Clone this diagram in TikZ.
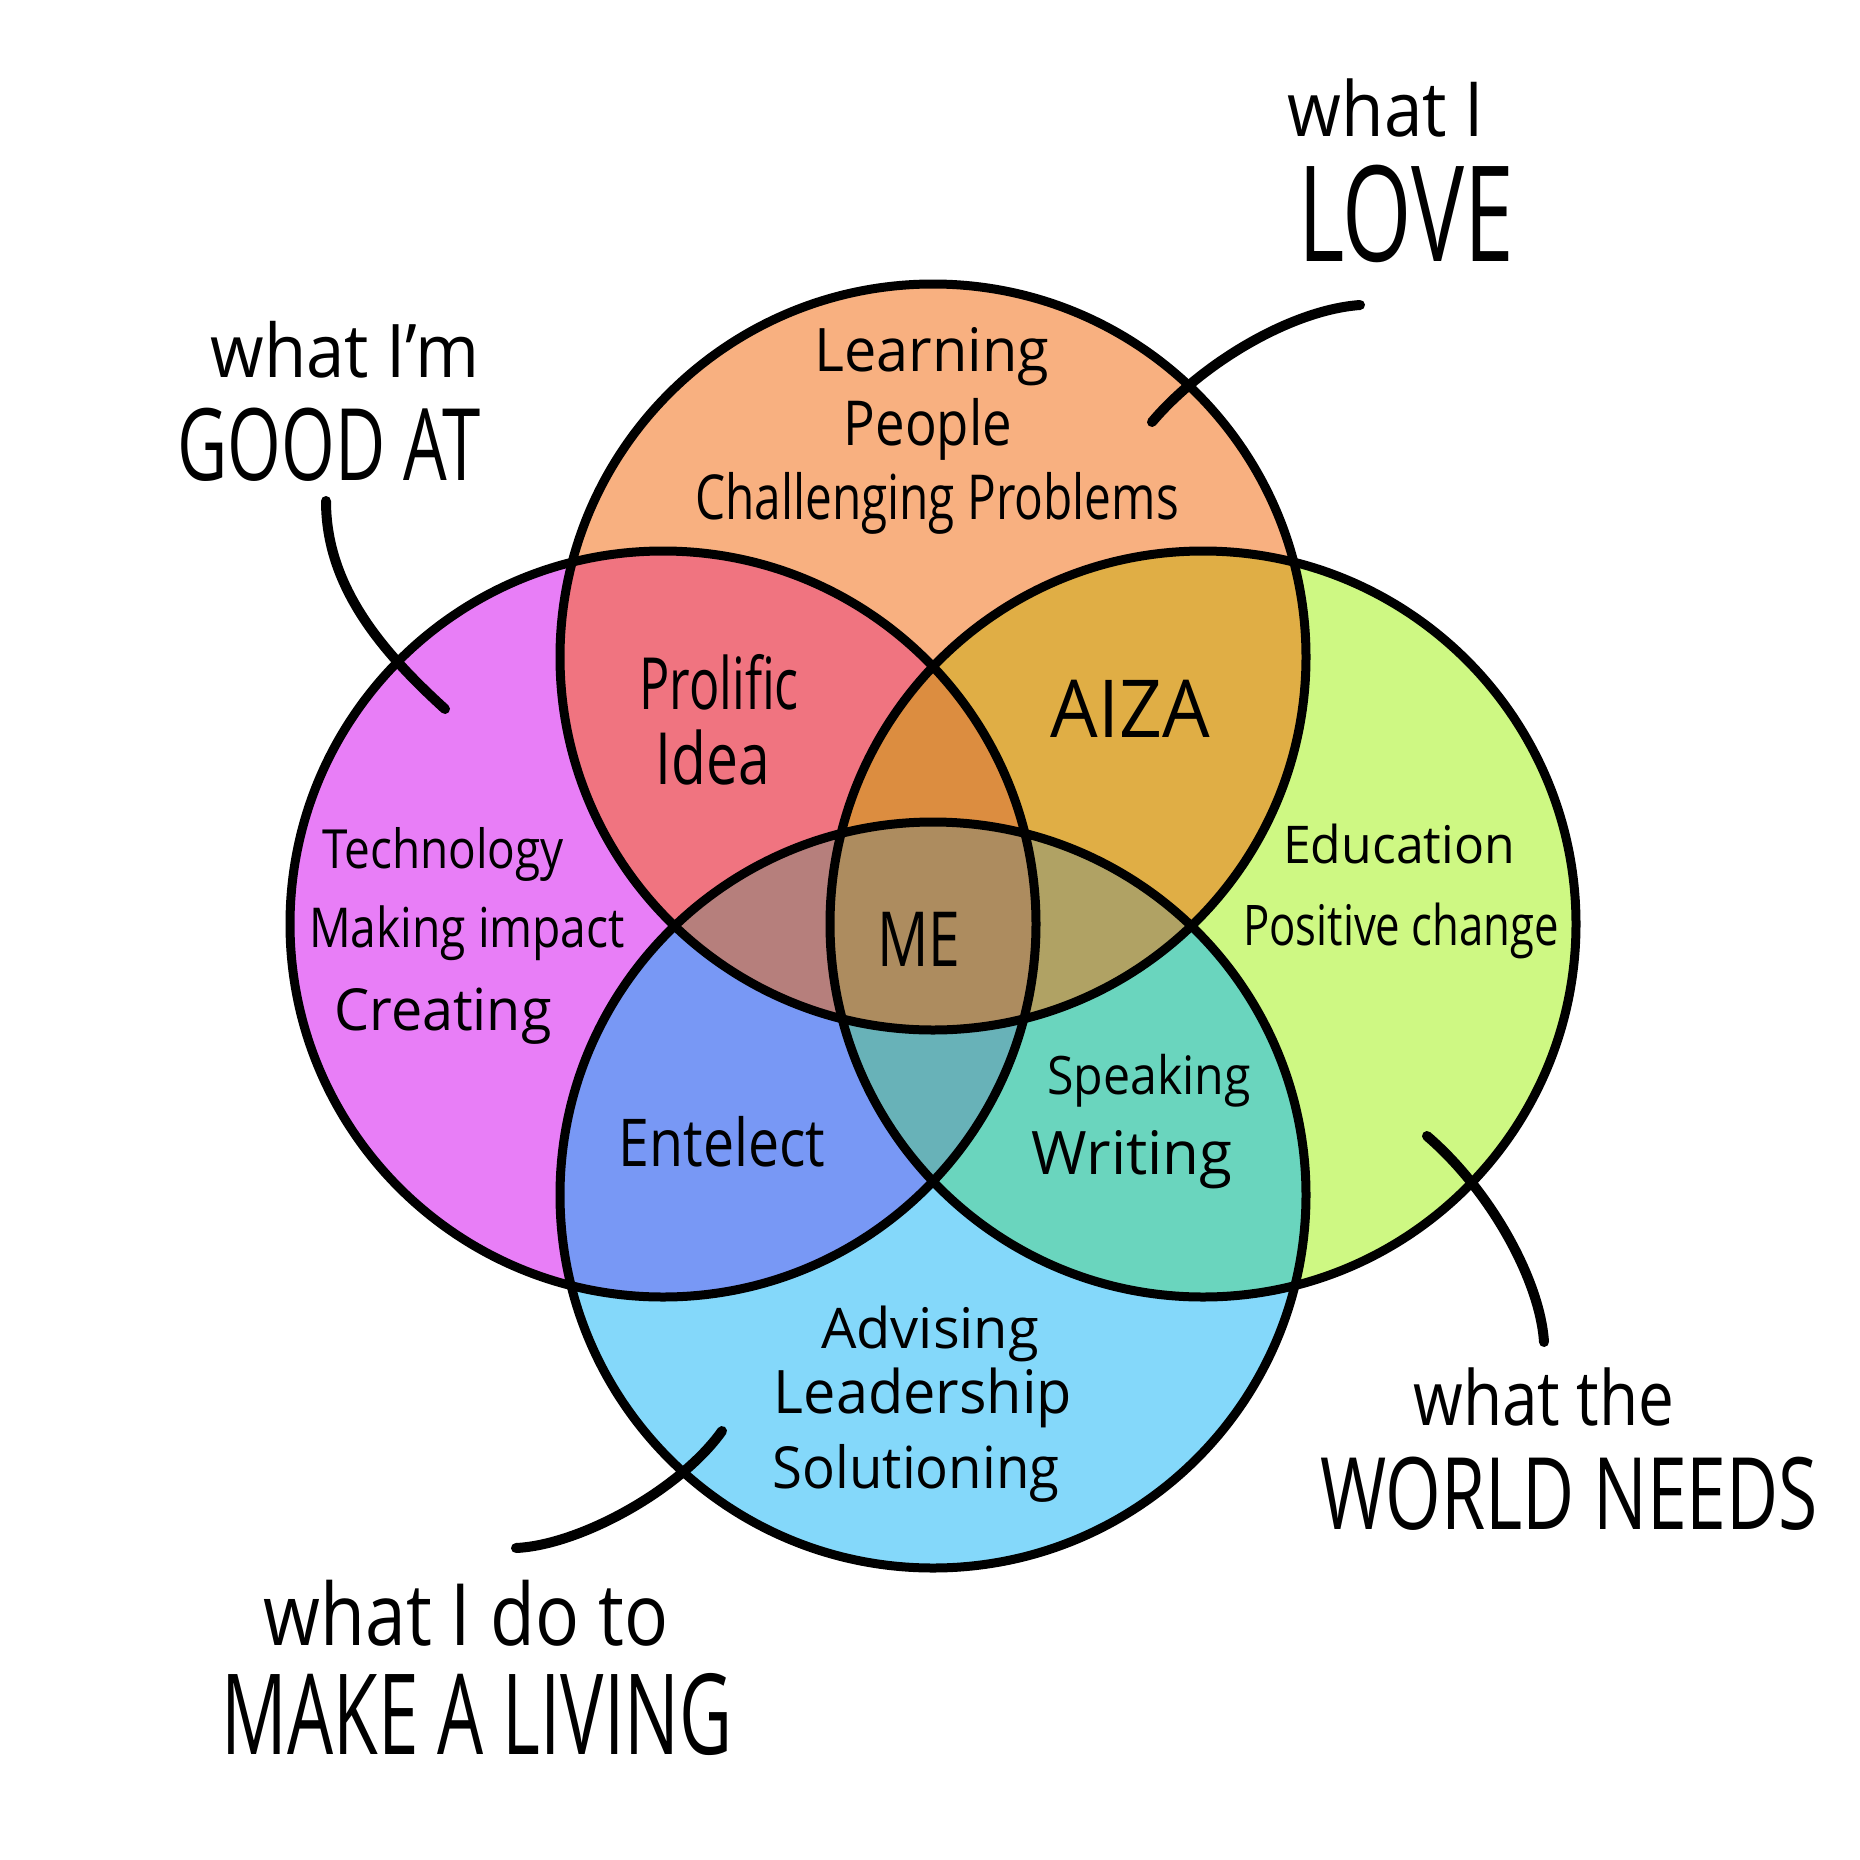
\documentclass[tikz,border=0pt]{standalone}
\usepackage{graphicx}
\usepackage{fontspec}
\newfontfamily\hand{Open Sans}
\newcommand\hs[1]{\hand\fontsize{#1}{#1}\selectfont}
\newcommand\sx[2]{\scalebox{#1}[1]{#2}}
\definecolor{cTop}{HTML}{F8B080}
\definecolor{cLeft}{HTML}{E87EF7}
\definecolor{cRight}{HTML}{CEF883}
\definecolor{cBot}{HTML}{84D8FA}
\definecolor{cTL}{HTML}{F07480}
\definecolor{cTR}{HTML}{E0AE45}
\definecolor{cLB}{HTML}{7898F5}
\definecolor{cRB}{HTML}{6AD5BE}
\definecolor{cTLR}{HTML}{DC8D40}
\definecolor{cTLB}{HTML}{B67F7C}
\definecolor{cTRB}{HTML}{B0A264}
\definecolor{cLRB}{HTML}{68B2B8}
\definecolor{cAll}{HTML}{AD8C5F}
\tikzset{
  ring/.style={draw=black, line width=9pt},
  pointer/.style={draw=black, line width=10pt, line cap=round},
  lbl/.style={anchor=base, inner sep=0pt, text=black}
}
\begin{document}
\begin{tikzpicture}[x=1pt,y=-1pt]
\useasboundingbox (0,0) rectangle (1860,1860);
\fill[white] (0,0) rectangle (1860,1860);
\def\R{373pt}
\coordinate (T) at (933,657);
\coordinate (L) at (663,924);
\coordinate (Rt) at (1203,924);
\coordinate (B) at (933,1195);
% single circles
\fill[cTop] (T) circle[radius=\R];
\fill[cLeft] (L) circle[radius=\R];
\fill[cRight] (Rt) circle[radius=\R];
\fill[cBot] (B) circle[radius=\R];
% pairs
\begin{scope}\clip (T) circle[radius=\R]; \fill[cTL] (L) circle[radius=\R]; \end{scope}
\begin{scope}\clip (T) circle[radius=\R]; \fill[cTR] (Rt) circle[radius=\R]; \end{scope}
\begin{scope}\clip (L) circle[radius=\R]; \fill[cLB] (B) circle[radius=\R]; \end{scope}
\begin{scope}\clip (Rt) circle[radius=\R]; \fill[cRB] (B) circle[radius=\R]; \end{scope}
% triples
\begin{scope}\clip (T) circle[radius=\R]; \clip (L) circle[radius=\R]; \fill[cTLR] (Rt) circle[radius=\R]; \end{scope}
\begin{scope}\clip (T) circle[radius=\R]; \clip (L) circle[radius=\R]; \fill[cTLB] (B) circle[radius=\R]; \end{scope}
\begin{scope}\clip (T) circle[radius=\R]; \clip (Rt) circle[radius=\R]; \fill[cTRB] (B) circle[radius=\R]; \end{scope}
\begin{scope}\clip (L) circle[radius=\R]; \clip (Rt) circle[radius=\R]; \fill[cLRB] (B) circle[radius=\R]; \end{scope}
% all four
\begin{scope}\clip (T) circle[radius=\R]; \clip (L) circle[radius=\R]; \clip (Rt) circle[radius=\R]; \fill[cAll] (B) circle[radius=\R]; \end{scope}
% outlines
\draw[ring] (T) circle[radius=\R];
\draw[ring] (L) circle[radius=\R];
\draw[ring] (Rt) circle[radius=\R];
\draw[ring] (B) circle[radius=\R];
% pointers
\coordinate (g1) at (326,501); \coordinate (g2) at (445,709);
\coordinate (l1) at (1360,305); \coordinate (l2) at (1152,422);
\coordinate (w1) at (1427,1136); \coordinate (w2) at (1544,1342);
\coordinate (m1) at (722,1431); \coordinate (m2) at (516,1548);
\draw[pointer] (g1) .. controls (326,585) and (380,650) .. (g2);
\draw[pointer] (l1) .. controls (1290,310) and (1200,365) .. (l2);
\draw[pointer] (w1) .. controls (1490,1190) and (1540,1280) .. (w2);
\draw[pointer] (m1) .. controls (680,1490) and (580,1545) .. (m2);
% top circle
\node[lbl,font=\hs{60}] (t1) at (932,371) {\sx{0.96}{Learning}};
\node[lbl,font=\hs{62}] (t2) at (928,445) {\sx{0.85}{People}};
\node[lbl,font=\hs{62}] (t3) at (937,519) {\sx{0.77}{Challenging Problems}};
% left circle
\node[lbl,font=\hs{54}] (l1t) at (443,868) {\sx{0.85}{Technology}};
\node[lbl,font=\hs{55}] (l2t) at (467,947) {\sx{0.84}{Making impact}};
\node[lbl,font=\hs{58}] (l3t) at (443,1030) {\sx{0.96}{Creating}};
% right circle
\node[lbl,font=\hs{52}] (r1t) at (1399,863) {\sx{0.96}{Education}};
\node[lbl,font=\hs{56}] (r2t) at (1401,945) {\sx{0.78}{Positive change}};
% overlaps
\node[lbl,font=\hs{72}] (tl1) at (719,709) {\sx{0.70}{Prolific}};
\node[lbl,font=\hs{72}] (tl2) at (713,784) {\sx{0.79}{Idea}};
\node[lbl,font=\hs{80}] (tr) at (1130,737) {\sx{0.94}{AIZA}};
\node[lbl,font=\hs{76}] (me) at (919,966) {\sx{0.75}{ME}};
\node[lbl,font=\hs{66}] (lb) at (722,1166) {\sx{0.84}{Entelect}};
\node[lbl,font=\hs{53}] (rb1) at (1149,1094) {\sx{0.91}{Speaking}};
\node[lbl,font=\hs{60}] (rb2) at (1132,1174) {\sx{1.0}{Writing}};
% bottom circle
\node[lbl,font=\hs{56}] (b1) at (930,1348) {\sx{1.0}{Advising}};
\node[lbl,font=\hs{60}] (b2) at (923,1413) {\sx{0.96}{Leadership}};
\node[lbl,font=\hs{58}] (b3) at (916,1488) {\sx{0.94}{Solutioning}};
% outer labels
\node[lbl,font=\hs{74}] (o1) at (345,377) {\sx{0.93}{what I’m}};
\node[lbl,font=\hs{100}] (o2) at (329,480) {\sx{0.69}{GOOD AT}};
\node[lbl,font=\hs{76}] (o3) at (1386,136) {\sx{0.91}{what I}};
\node[lbl,font=\hs{133}] (o4) at (1406,261) {\sx{0.67}{LOVE}};
\node[lbl,font=\hs{86}] (o5) at (466,1645) {\sx{0.85}{what I do to}};
\node[lbl,font=\hs{112}] (o6) at (477,1754) {\sx{0.65}{MAKE A LIVING}};
\node[lbl,font=\hs{76}] (o7) at (1544,1425) {\sx{0.84}{what the}};
\node[lbl,font=\hs{100}] (o8) at (1569,1529) {\sx{0.715}{WORLD NEEDS}};
\end{tikzpicture}
\end{document}
